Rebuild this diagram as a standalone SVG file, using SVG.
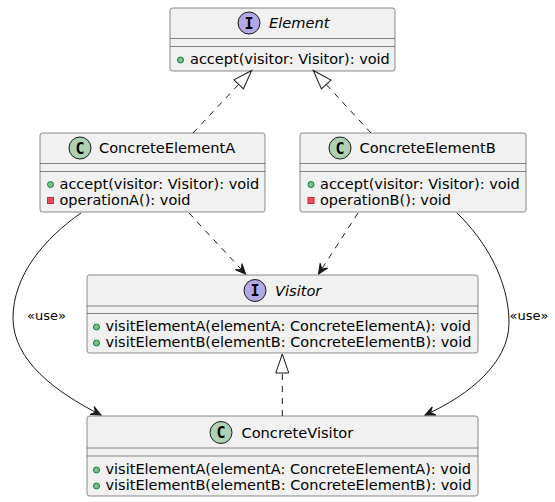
<svg xmlns="http://www.w3.org/2000/svg" width="555" height="502" viewBox="0 0 555 502">
<style>
.box{fill:#F1F1F1;stroke:#181818;stroke-width:0.5}
.sep{stroke:#181818;stroke-width:0.5}
.name{font-family:"DejaVu Sans",sans-serif;font-size:14.6px;fill:#000}
.it{font-style:italic}
.mem{font-family:"DejaVu Sans",sans-serif;font-size:14.5px;fill:#000}
.ci{fill:#B4A7E5;stroke:#181818;stroke-width:1}
.cc{fill:#ADD1B2;stroke:#181818;stroke-width:1}
.let{font-family:"DejaVu Sans Mono",monospace;font-weight:bold;font-size:15px;fill:#000;text-anchor:middle}
.pub{fill:#84BE84;stroke:#038048;stroke-width:1}
.pri{fill:#F24D5C;stroke:#C82930;stroke-width:1}
.edge{fill:none;stroke:#181818;stroke-width:1}
.dash{stroke-dasharray:6,6}
.lbl{font-family:"DejaVu Sans",sans-serif;font-size:13px;fill:#000}
</style>
<defs>
<marker id="tri" markerUnits="userSpaceOnUse" markerWidth="22" markerHeight="16" viewBox="-20 -8 22 16" refX="0" refY="0" orient="auto">
<path d="M0,0 L-19,-6.5 L-19,6.5 Z" fill="#FFFFFF" stroke="#181818" stroke-width="1"/>
</marker>
<marker id="arr" markerUnits="userSpaceOnUse" markerWidth="14" markerHeight="12" viewBox="-12 -6 14 12" refX="0" refY="0" orient="auto">
<path d="M0,0 L-10,-4.5 L-6,0 L-10,4.5 Z" fill="#181818" stroke="#181818" stroke-width="1"/>
</marker>
</defs>

<g id="Element">
<rect class="box" x="170" y="8" width="225" height="63" rx="2.5"/>
<line class="sep" x1="170" y1="38.5" x2="395" y2="38.5"/>
<line class="sep" x1="170" y1="46.5" x2="395" y2="46.5"/>
<circle class="ci" cx="249" cy="23" r="11"/>
<text class="let" x="249" y="28.5">I</text>
<text class="name it" x="269" y="28">Element</text>
<circle class="pub" cx="180.5" cy="60" r="3"/>
<text class="mem" x="190" y="64">accept(visitor: Visitor): void</text>
</g>

<g id="ConcreteElementA">
<rect class="box" x="40" y="133" width="225" height="79" rx="2.5"/>
<line class="sep" x1="40" y1="163.5" x2="265" y2="163.5"/>
<line class="sep" x1="40" y1="171.5" x2="265" y2="171.5"/>
<circle class="cc" cx="80" cy="148" r="11"/>
<text class="let" x="80" y="153.5">C</text>
<text class="name" x="99" y="153">ConcreteElementA</text>
<circle class="pub" cx="50.5" cy="184.5" r="3"/>
<text class="mem" x="59.5" y="188.5">accept(visitor: Visitor): void</text>
<rect class="pri" x="47.5" y="197.5" width="6" height="6"/>
<text class="mem" x="59.5" y="204.8">operationA(): void</text>
</g>

<g id="ConcreteElementB">
<rect class="box" x="300" y="133" width="226" height="79" rx="2.5"/>
<line class="sep" x1="300" y1="163.5" x2="526" y2="163.5"/>
<line class="sep" x1="300" y1="171.5" x2="526" y2="171.5"/>
<circle class="cc" cx="340" cy="148" r="11"/>
<text class="let" x="340" y="153.5">C</text>
<text class="name" x="359.5" y="153">ConcreteElementB</text>
<circle class="pub" cx="311" cy="184.5" r="3"/>
<text class="mem" x="320" y="188.5">accept(visitor: Visitor): void</text>
<rect class="pri" x="308" y="197.5" width="6" height="6"/>
<text class="mem" x="320" y="204.8">operationB(): void</text>
</g>

<g id="Visitor">
<rect class="box" x="87" y="275" width="391" height="78" rx="2.5"/>
<line class="sep" x1="87" y1="306" x2="478" y2="306"/>
<line class="sep" x1="87" y1="313.5" x2="478" y2="313.5"/>
<circle class="ci" cx="255" cy="290.5" r="11"/>
<text class="let" x="255" y="296">I</text>
<text class="name it" x="275" y="295.5">Visitor</text>
<circle class="pub" cx="96.5" cy="327" r="3"/>
<text class="mem" x="105.5" y="331">visitElementA(elementA: ConcreteElementA): void</text>
<circle class="pub" cx="96.5" cy="343" r="3"/>
<text class="mem" x="105.5" y="347">visitElementB(elementB: ConcreteElementB): void</text>
</g>

<g id="ConcreteVisitor">
<rect class="box" x="87" y="416" width="391" height="80" rx="2.5"/>
<line class="sep" x1="87" y1="448" x2="478" y2="448"/>
<line class="sep" x1="87" y1="456" x2="478" y2="456"/>
<circle class="cc" cx="221" cy="432.5" r="11"/>
<text class="let" x="221" y="438">C</text>
<text class="name" x="241.5" y="437.5">ConcreteVisitor</text>
<circle class="pub" cx="96.5" cy="470" r="3"/>
<text class="mem" x="105.5" y="474">visitElementA(elementA: ConcreteElementA): void</text>
<circle class="pub" cx="96.5" cy="486" r="3"/>
<text class="mem" x="105.5" y="490">visitElementB(elementB: ConcreteElementB): void</text>
</g>

<g id="connectors">
<path class="edge dash" d="M193,133 L251.7,70.5" marker-end="url(#tri)"/>
<path class="edge dash" d="M371,133 L313.3,70.5" marker-end="url(#tri)"/>
<path class="edge dash" d="M189,213 L245.5,274" marker-end="url(#arr)"/>
<path class="edge dash" d="M358,213 L318.5,274" marker-end="url(#arr)"/>
<path class="edge dash" d="M282.3,416 L282.3,354" marker-end="url(#tri)"/>
<path class="edge" d="M81,213 C45,238 13,275 13,318 C13,360 55,392 101,415" marker-end="url(#arr)"/>
<text class="lbl" x="27" y="320">«use»</text>
<path class="edge" d="M457,213 C485,240 509,280 509,323 C509,362 470,395 425,415" marker-end="url(#arr)"/>
<text class="lbl" x="509.5" y="320">«use»</text>
</g>
</svg>
